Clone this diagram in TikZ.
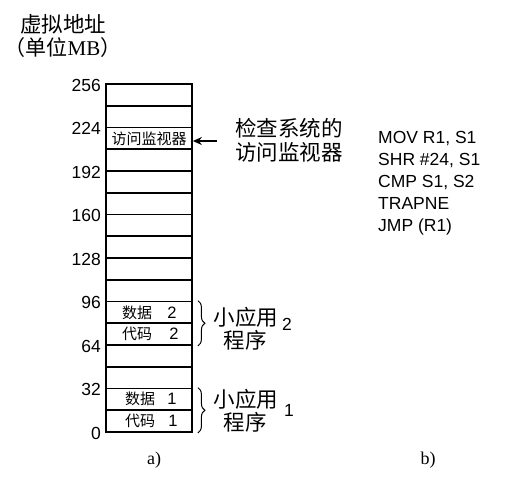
\documentclass[tikz,border=0pt]{standalone}
\usepackage{fontspec}
\setmainfont{Liberation Serif}
\setsansfont{Liberation Sans}
\newfontfamily\cjk{Noto Sans CJK SC}
\usetikzlibrary{arrows.meta,decorations.pathreplacing}
\begin{document}
\begin{tikzpicture}[x=1pt,y=-1pt,
  rowbox/.style={draw, line width=1.8pt, minimum width=86pt, minimum height=21.75pt, inner sep=0pt},
  num/.style={font=\sffamily\fontsize{17.5}{18}\selectfont, inner sep=0pt},
  codeline/.style={font=\sffamily\fontsize{17.5}{18}\selectfont, inner sep=0pt, anchor=base west},
  cell/.style={font=\cjk\fontsize{15}{16}\selectfont, inner sep=0pt},
  cellnum/.style={font=\sffamily\fontsize{16.5}{17}\selectfont, inner sep=0pt},
  big/.style={font=\cjk\fontsize{21.5}{22}\selectfont, inner sep=0pt},
  capt/.style={font=\fontsize{18}{19}\selectfont, inner sep=0pt},
  bracestyle/.style={decorate, decoration={brace, amplitude=7pt}, line width=1pt}]
\useasboundingbox (0,0) rectangle (507,491);
% rows
\foreach \k in {0,...,15}{
  \node[rowbox] (r\k) at (149, {432-(\k+0.5)*21.75}) {};
}
% axis labels
\foreach \v [count=\i from 0] in {0,32,64,96,128,160,192,224,256}{
  \node[num, anchor=east] (ax\i) at (101, {433-\i*43.5}) {\v};
}
% title
\node[big] (t1) at (63,24) {虚拟地址};
\node[inner sep=0pt] (t2) at (63,48) {{\cjk\fontsize{21}{22}\selectfont （单位}{\fontsize{21}{22}\selectfont MB}{\cjk\fontsize{21}{22}\selectfont ）}};
% monitor
\node[cell] (mon) at (149,138.5) {访问监视器};
\node[big] (m1) at (289,128) {检查系统的};
\node[big] (m2) at (289,152) {访问监视器};
\coordinate (arrstart) at (217,141);
\draw[line width=1.2pt, -{Stealth[length=9pt,width=8pt,inset=3pt]}] (arrstart) -- (arrstart -| r13.east);
% applet 2
\node[cell] (d2) at (137,312.5) {数据};
\node[cellnum] (d2n) at (172,312.5) {2};
\node[cell] (c2) at (137,334) {代码};
\node[cellnum] (c2n) at (174,334) {2};
% applet 1
\node[cell] (d1) at (140,399) {数据};
\node[cellnum] (d1n) at (172,399) {1};
\node[cell] (c1) at (140,421) {代码};
\node[cellnum] (c1n) at (173,421) {1};
% braces
\draw[bracestyle] ([xshift=5pt]r5.north east) -- ([xshift=5pt]r4.south east);
\draw[bracestyle] ([xshift=5pt]r1.north east) -- ([xshift=5pt]r0.south east);
\node[big] (a2a) at (246,317) {小应用};
\node[big] (a2b) at (245,340) {程序};
\node[num] (a2n) at (287,324) {2};
\node[big] (a1a) at (246,399) {小应用};
\node[big] (a1b) at (245,422) {程序};
\node[num] (a1n) at (289,410) {1};
% code
\node[codeline] (l1) at (378,143) {MOV R1, S1};
\node[codeline] (l2) at (378,165) {SHR \#24, S1};
\node[codeline] (l3) at (378,187) {CMP S1, S2};
\node[codeline] (l4) at (378,209) {TRAPNE};
\node[codeline] (l5) at (378,231) {JMP (R1)};
% captions
\node[capt] (ca) at (154,460) {a)};
\node[capt] (cb) at (428,460) {b)};
\end{tikzpicture}
\end{document}
